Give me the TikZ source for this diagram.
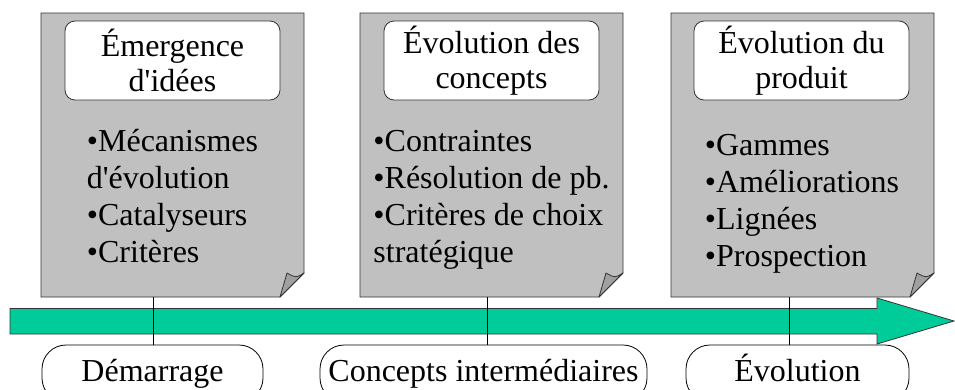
\documentclass[tikz,border=0pt]{standalone}
\usepackage{fontspec}
\setmainfont{Liberation Serif}[Ligatures=TeXOff]
\usetikzlibrary{calc}
\definecolor{pagegray}{RGB}{192,192,192}
\definecolor{foldgray}{RGB}{160,160,160}
\definecolor{timegreen}{RGB}{0,204,153}
\tikzset{
  >=latex,
  page/.style = {draw=black!80, fill=pagegray, line width=0.8pt},
  fold/.style = {draw=black!80, fill=foldgray, line width=0.8pt,
                 line join=round},
  heading/.style = {draw=black!80, fill=white, rounded corners=10pt,
                 line width=0.8pt, minimum width=215pt, minimum height=79pt,
                 inner sep=0pt, align=center,
                 font=\fontsize{32}{35}\selectfont},
  items/.style = {inner sep=0pt, align=left, anchor=north,
                 font=\fontsize{32}{37}\selectfont},
  stage/.style = {draw=black, fill=white, rounded corners=24pt,
                 line width=0.8pt, minimum height=57pt, inner sep=0pt,
                 text height=22pt, text depth=7pt,
                 font=\fontsize{32}{37}\selectfont},
  timeline/.style = {draw=black!80, fill=timegreen, line width=0.8pt},
  drop/.style = {draw, line width=0.8pt},
}

\begin{document}
\begin{tikzpicture}[x=1pt,y=-1pt]
\useasboundingbox (0,0) rectangle (955,389);
% les trois pages, coin replie en bas a droite
\foreach \x in {41,360,671}{
  \path[page] (\x,13) -- (\x+263,13) -- (\x+263,273) -- (\x+239,297)
              -- (\x,297) -- cycle;
  \path[fold] (\x+239,297) -- (\x+246,273)
              .. controls (\x+255,278) .. (\x+263,273) -- cycle;
}
\node[heading] (h1) at (172.5,60.5) {Émergence\\d'idées};
\node[heading] (h2) at (491.5,60.5) {Évolution des\\concepts};
\node[heading] (h3) at (801.5,60.5) {Évolution du\\produit};
\node[items] (l1) at (172.5,129.5) {•Mécanismes\\d'évolution\\•Catalyseurs\\•Critères};
\node[items] (l2) at (491.5,130.3) {•Contraintes\\•Résolution de pb.\\•Critères de choix\\stratégique};
\node[items] (l3) at (802,134.3) {•Gammes\\•Améliorations\\•Lignées\\•Prospection};
% la fleche du temps
\path[timeline] (10,308.5) -- (877,308.5) -- (877,298) -- (954,321)
                -- (877,344) -- (877,334) -- (10,334) -- cycle;
% les etapes
\node[stage, minimum width=221pt] (b1) at (152.5,373.5) {Démarrage};
\node[stage, minimum width=327pt] (b2) at (483.5,373.5) {Concepts intermédiaires};
\node[stage, minimum width=223pt] (b3) at (797.5,373.5) {Évolution};
\coordinate (d1) at (153,297);
\coordinate (d2) at (487,297);
\coordinate (d3) at (789,297);
\draw[drop] (d1) -- (d1 |- b1.north);
\draw[drop] (d2) -- (d2 |- b2.north);
\draw[drop] (d3) -- (d3 |- b3.north);
\end{tikzpicture}
\end{document}
